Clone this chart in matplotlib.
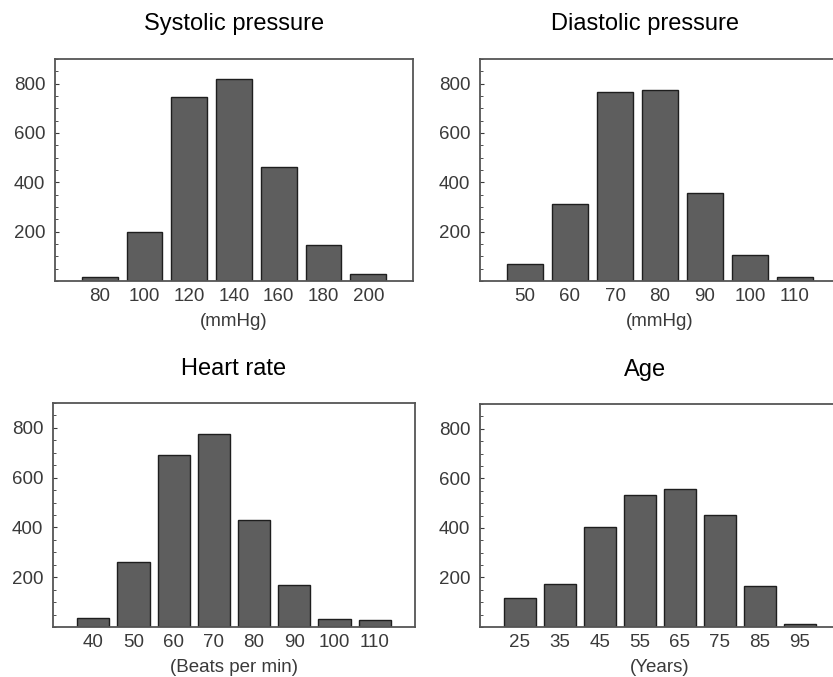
import matplotlib.pyplot as plt
from matplotlib.ticker import MultipleLocator

plt.rcParams['font.family'] = ['Liberation Sans', 'DejaVu Sans']

sys_bins = [80, 100, 120, 140, 160, 180, 200]
sys_counts = [15, 200, 744, 820, 463, 146, 28]

dia_bins = [50, 60, 70, 80, 90, 100, 110]
dia_counts = [68, 312, 768, 773, 356, 106, 15]

hr_bins = [40, 50, 60, 70, 80, 90, 100, 110]
hr_counts = [36, 261, 693, 777, 429, 168, 31, 27]

age_bins = [25, 35, 45, 55, 65, 75, 85, 95]
age_counts = [116, 173, 402, 534, 556, 453, 164, 12]

W, H = 833, 677
fig = plt.figure(figsize=(W / 100, H / 100), dpi=100)


def panel(px, title, xlabel, bins, counts, step, xlim, title_x=0.5, tpad=21):
    l, r, t, b = px
    ax = fig.add_axes([l / W, 1 - b / H, (r - l) / W, (b - t) / H])
    ax.bar(bins, counts, width=step * 0.8, color='#5e5e5e',
           edgecolor='#1e1e1e', linewidth=1.0)
    ax.set_xlim(*xlim)
    ax.set_ylim(0, 900)
    ax.set_xticks(bins)
    ax.set_xticklabels([str(v) for v in bins])
    ax.set_yticks([200, 400, 600, 800])
    ax.yaxis.set_minor_locator(MultipleLocator(50))
    ax.tick_params(axis='x', length=0, labelsize=13.5, colors='#3a3a3a', pad=5)
    ax.tick_params(axis='y', which='major', direction='in', length=3,
                   labelsize=13.5, colors='#3a3a3a', pad=7)
    ax.tick_params(axis='y', which='minor', direction='in', length=2,
                   color='#333333')
    for s in ax.spines.values():
        s.set_color('#555555')
        s.set_linewidth(1.3)
    ax.set_xlabel(xlabel, fontsize=13.5, color='#3a3a3a', labelpad=6)
    ax.set_title(title, fontsize=17, x=title_x, pad=tpad)
    return ax


panel((55, 413, 59, 281), 'Systolic pressure', '(mmHg)',
      sys_bins, sys_counts, 20, (60, 220))
panel((480, 840, 59, 281), 'Diastolic pressure', '(mmHg)',
      dia_bins, dia_counts, 10, (40, 120), title_x=0.458)
panel((53, 415, 403, 627), 'Heart rate', '(Beats per min)',
      hr_bins, hr_counts, 10, (30, 120), tpad=20)
panel((480, 840, 404, 627), 'Age', '(Years)',
      age_bins, age_counts, 10, (15, 105), title_x=0.458, tpad=20)

fig.savefig('out.png', dpi=100)
